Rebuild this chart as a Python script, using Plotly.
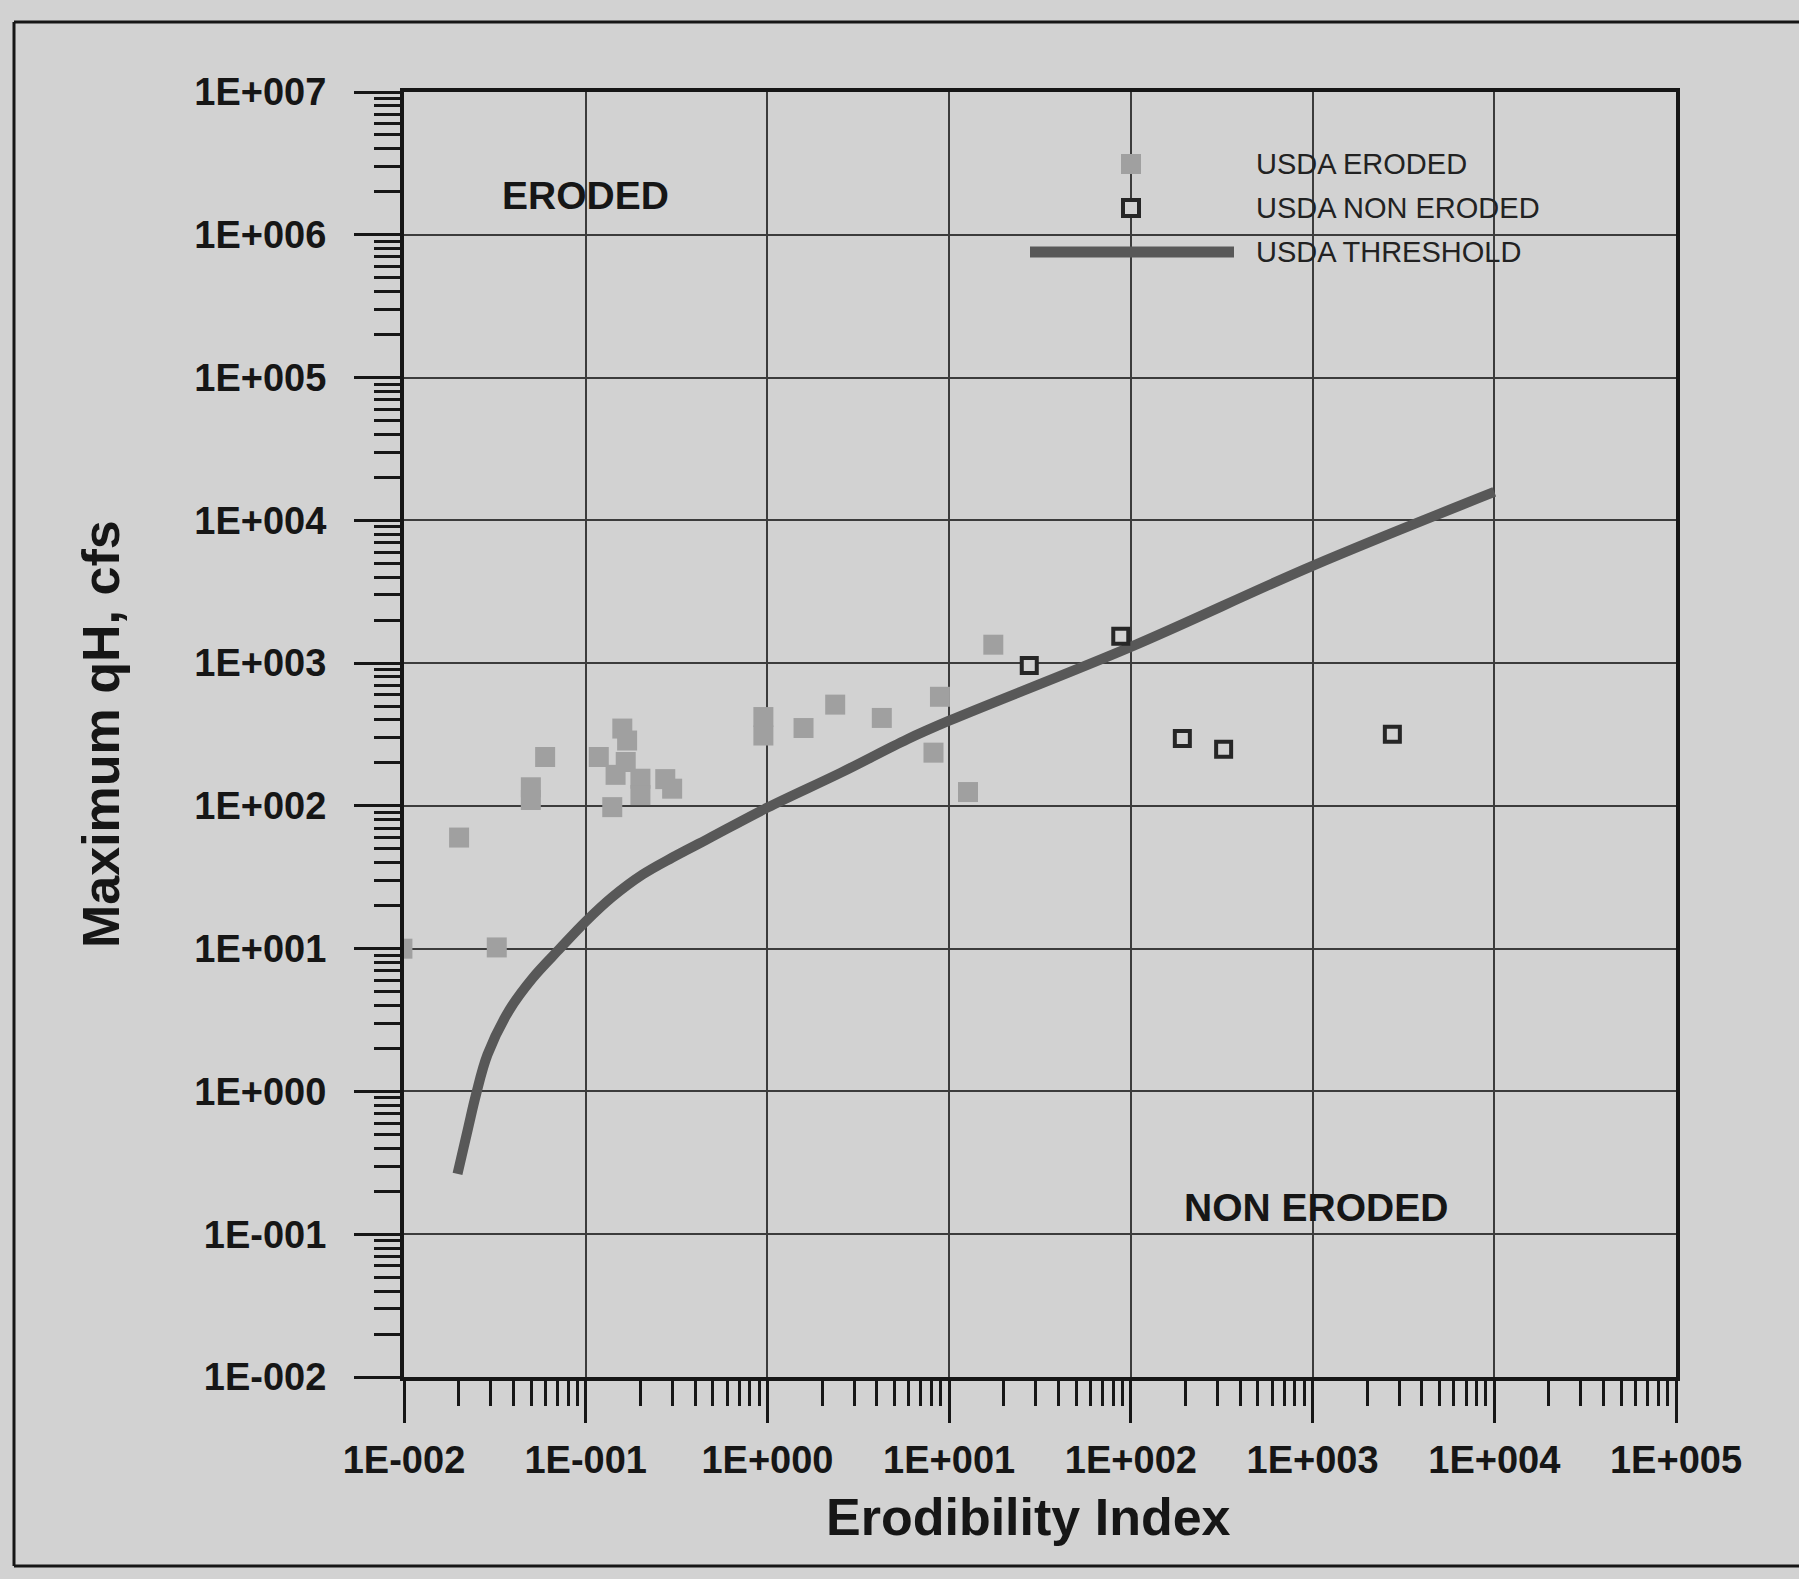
import plotly.graph_objects as go

# ---------------- data ----------------
eroded_x = [0.0098, 0.0201, 0.0324, 0.0499, 0.0499, 0.0598, 0.118, 0.140, 0.146,
            0.159, 0.169, 0.166, 0.200, 0.200, 0.274, 0.299, 0.95, 0.95, 1.58,
            2.36, 4.26, 8.2, 8.9, 12.7, 17.5]
eroded_y = [10, 60, 10.2, 135, 110, 220, 220, 98, 165,
            348, 287, 203, 155, 119, 154, 132, 419, 311, 351,
            512, 413, 236, 581, 125, 1346]

non_eroded_x = [27.6, 88, 192, 324, 2748]
non_eroded_y = [963, 1542, 296, 249, 318]

threshold_x = [0.0197, 0.0225, 0.0249, 0.0288, 0.0379, 0.0509, 0.072, 0.1,
               0.14, 0.205, 0.3, 0.474, 1.0, 2.54, 5.89, 10, 100, 1000, 10000]
threshold_y = [0.265, 0.55, 0.95, 1.81, 3.7, 6.2, 10, 15.5,
               23, 33, 43.5, 59, 97.3, 171, 293, 395, 1300, 4800, 15800]

x_tickvals = [1e-2, 1e-1, 1e0, 1e1, 1e2, 1e3, 1e4, 1e5]
x_ticktext = ["1E-002", "1E-001", "1E+000", "1E+001", "1E+002", "1E+003", "1E+004", "1E+005"]
y_tickvals = [1e-2, 1e-1, 1e0, 1e1, 1e2, 1e3, 1e4, 1e5, 1e6, 1e7]
y_ticktext = ["1E-002", "1E-001", "1E+000", "1E+001", "1E+002", "1E+003",
              "1E+004", "1E+005", "1E+006", "1E+007"]

legend_labels = ["USDA ERODED", "USDA NON ERODED", "USDA THRESHOLD"]

# ---------------- styling ----------------
BG = "#d2d2d2"
INK = "#161616"
GRID = "#3c3c3c"
FONT = "Liberation Sans"
LINE_C = "#585858"
ERO_C = "#a0a0a0"

fig = go.Figure()

fig.add_trace(go.Scatter(
    x=threshold_x, y=threshold_y, mode="lines", name=legend_labels[2],
    line=dict(color=LINE_C, width=10, shape="spline", smoothing=1.0),
    showlegend=False))

fig.add_trace(go.Scatter(
    x=eroded_x, y=eroded_y, mode="markers", name=legend_labels[0],
    marker=dict(symbol="square", size=20, color=ERO_C, line=dict(width=0)),
    showlegend=False))

fig.add_trace(go.Scatter(
    x=non_eroded_x, y=non_eroded_y, mode="markers", name=legend_labels[1],
    marker=dict(symbol="square", size=15, color=BG, line=dict(width=4, color="#262626")),
    showlegend=False))

axis_common = dict(
    type="log",
    showgrid=True, gridcolor=GRID, gridwidth=1.5,
    showline=True, linecolor=INK, linewidth=4, mirror=True,
    ticks="outside", tickcolor=INK, tickwidth=3,
    tickmode="array",
    tickfont=dict(family=FONT, size=38, color=INK, weight="bold"),
    zeroline=False,
)

fig.update_xaxes(
    **axis_common,
    range=[-2, 5],
    tickvals=x_tickvals, ticktext=x_ticktext,
    ticklen=42, ticklabelstandoff=4,
    minor=dict(dtick="D1", ticks="outside", ticklen=25, tickwidth=3,
               tickcolor=INK, showgrid=False),
)
fig.update_yaxes(
    **axis_common,
    range=[-2, 7],
    tickvals=y_tickvals, ticktext=y_ticktext,
    ticklen=46, ticklabelstandoff=20,
    minor=dict(dtick="D1", ticks="outside", ticklen=26, tickwidth=3,
               tickcolor=INK, showgrid=False),
)

W, H = 1799, 1579
L, R, T, B = 404, 123, 92, 202
pw, ph = W - L - R, H - T - B


def px(xp):
    return (xp - L) / pw


def py(yp):
    return (H - B - yp) / ph


shapes = []
# outer frame (top, left, bottom) of the page figure
for x0, y0, x1, y1 in [(14, 22, 1815, 22), (14, 22, 14, 1566), (14, 1566, 1815, 1566)]:
    shapes.append(dict(type="line", xref="paper", yref="paper",
                       x0=px(x0), y0=py(y0), x1=px(x1), y1=py(y1),
                       line=dict(color=INK, width=3)))
# legend symbols
shapes.append(dict(type="rect", xref="paper", yref="paper",
                   x0=px(1121), x1=px(1141), y0=py(174), y1=py(154),
                   fillcolor=ERO_C, line=dict(width=0)))
shapes.append(dict(type="rect", xref="paper", yref="paper",
                   x0=px(1123), x1=px(1139), y0=py(216), y1=py(200),
                   fillcolor=BG, line=dict(width=4, color="#262626")))
shapes.append(dict(type="line", xref="paper", yref="paper",
                   x0=px(1030), x1=px(1234), y0=py(252), y1=py(252),
                   line=dict(width=11, color=LINE_C)))

annotations = []
for label, yp in zip(legend_labels, [164, 208, 252]):
    annotations.append(dict(text=label, xref="paper", yref="paper",
                            x=px(1254), y=py(yp), xanchor="left", yanchor="middle",
                            showarrow=False,
                            font=dict(family=FONT, size=29, color="#222222")))
annotations.append(dict(text="ERODED", xref="paper", yref="paper",
                        x=px(585), y=py(195), xanchor="center", yanchor="middle",
                        showarrow=False,
                        font=dict(family=FONT, size=39, color=INK, weight="bold")))
annotations.append(dict(text="NON ERODED", xref="paper", yref="paper",
                        x=px(1316), y=py(1207), xanchor="center", yanchor="middle",
                        showarrow=False,
                        font=dict(family=FONT, size=39, color=INK, weight="bold")))
annotations.append(dict(text="Erodibility Index", xref="paper", yref="paper",
                        x=px(1028), y=py(1517), xanchor="center", yanchor="middle",
                        showarrow=False,
                        font=dict(family=FONT, size=52, color=INK, weight="bold")))
annotations.append(dict(text="Maximum qH, cfs", xref="paper", yref="paper",
                        x=px(101), y=py(734), xanchor="center", yanchor="middle",
                        showarrow=False, textangle=-90,
                        font=dict(family=FONT, size=52, color=INK, weight="bold")))

fig.update_layout(
    width=W, height=H,
    margin=dict(l=L, r=R, t=T, b=B, pad=0),
    paper_bgcolor=BG, plot_bgcolor=BG,
    showlegend=False,
    shapes=shapes, annotations=annotations,
)

fig.write_html("out.html")
